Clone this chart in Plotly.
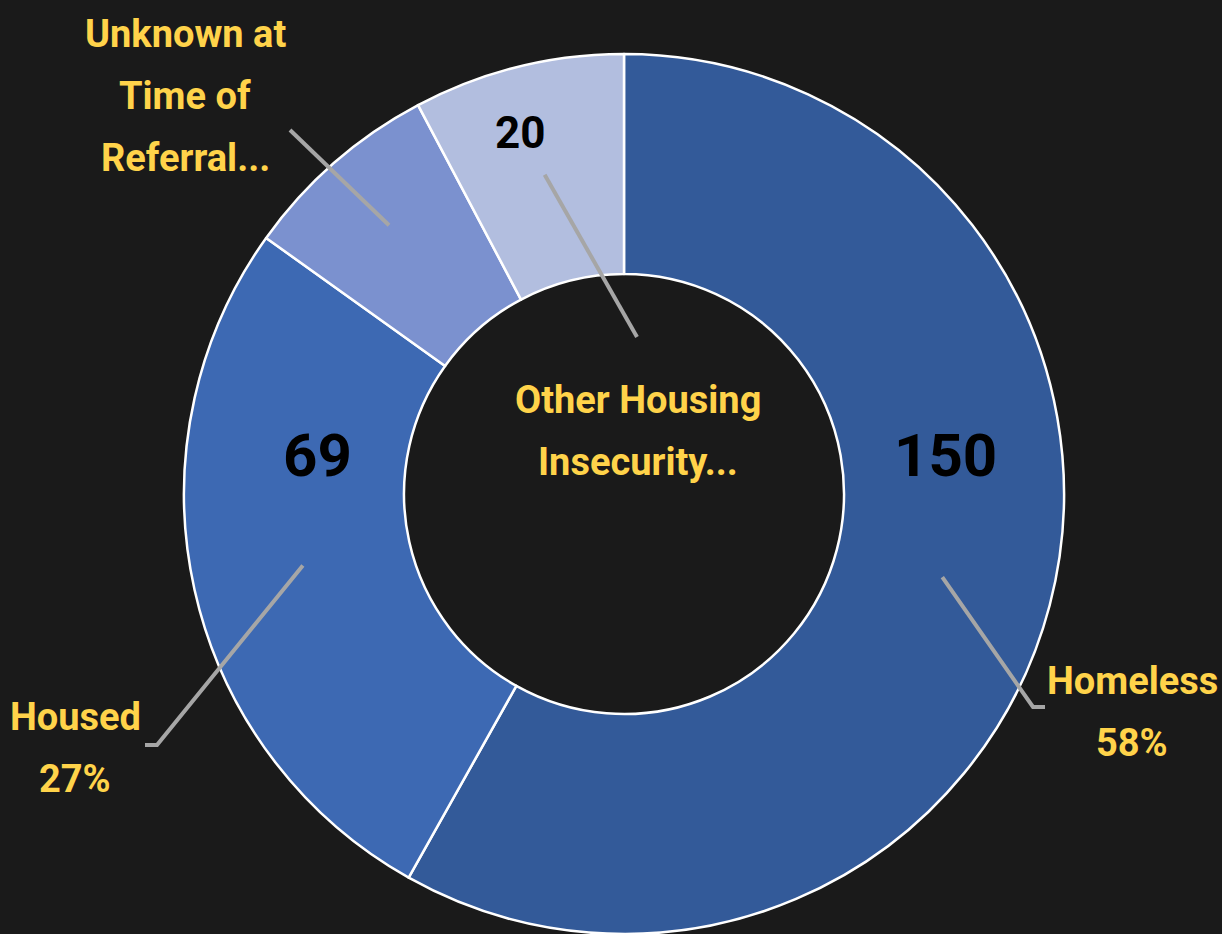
import math
import plotly.graph_objects as go

# Referral housing status
categories = ["Homeless", "Housed", "Unknown at Time of Referral...", "Other Housing Insecurity..."]
counts = [150, 69, 19, 20]
label_lines = [["Homeless", "58%"], ["Housed", "27%"], ["Unknown at", "Time of", "Referral..."],
               ["Other Housing", "Insecurity..."]]
slice_colors = ["#335A99", "#3D69B3", "#7B91CF", "#B2BEDF"]

W, H = 1222, 934
BG = "#1A1A1A"
YELLOW = "#FFD34A"
LEADER = "#A6A6A6"
FONT = "Roboto, Liberation Sans Narrow, DejaVu Sans Condensed, sans-serif"
LINE_GAP = 62  # pixel spacing between label lines

# donut geometry (pixels)
CX, CY, R = 624, 494, 440


def px(x, y):
    """pixel position -> paper coordinates"""
    return x / W, 1 - y / H


fig = go.Figure(go.Pie(
    labels=categories,
    values=counts,
    hole=0.5,
    sort=False,
    direction="clockwise",
    rotation=0,
    marker=dict(colors=slice_colors, line=dict(color="#FFFFFF", width=2.5)),
    textinfo="none",
    hoverinfo="label+value+percent",
    showlegend=False,
    domain=dict(x=[(CX - R) / W, (CX + R) / W], y=[1 - (CY + R) / H, 1 - (CY - R) / H]),
))

# mid-angle of each slice (clockwise from 12 o'clock)
total = sum(counts)
mid_angles = []
acc = 0
for v in counts:
    mid_angles.append((acc + v / 2) / total * 2 * math.pi)
    acc += v

# leader-line anchor radius inside each slice, and the outer path of each line
anchor_r = [329, 329, 357, 329]
leader_paths = [
    [(1033, 707), (1045, 707)],
    [(157, 745), (145, 745)],
    [(290, 130)],
    [(637, 337)],
]
# centre of each label block
label_pos = [(1132, 712), (75, 748), (185, 96), (638, 431)]

shapes = []
for a, r, path in zip(mid_angles, anchor_r, leader_paths):
    pts = [(CX + r * math.sin(a), CY - r * math.cos(a))] + path
    d = "M " + " L ".join(f"{px(x, y)[0]:.5f},{px(x, y)[1]:.5f}" for x, y in pts)
    shapes.append(dict(type="path", path=d, xref="paper", yref="paper",
                       line=dict(color=LEADER, width=4)))

annotations = []
for lines, (x, y) in zip(label_lines, label_pos):
    n = len(lines)
    for i, line in enumerate(lines):
        ly = y + (i - (n - 1) / 2) * LINE_GAP
        ax, ay = px(x, ly)
        annotations.append(dict(x=ax, y=ay, xref="paper", yref="paper", text=line,
                                showarrow=False, xanchor="center", yanchor="middle",
                                font=dict(family=FONT, size=38, color=YELLOW, weight="bold")))

# value labels inside the slices (the small "Unknown" slice carries none)
value_pos = [(945, 455, 60), (317, 455, 60), None, (520, 133, 44)]
for v, pos in zip(counts, value_pos):
    if pos is None:
        continue
    x, y, size = pos
    ax, ay = px(x, y)
    annotations.append(dict(x=ax, y=ay, xref="paper", yref="paper", text=str(v),
                            showarrow=False, xanchor="center", yanchor="middle",
                            font=dict(family=FONT, size=size, color="#000000", weight="bold")))

fig.update_layout(
    width=W, height=H,
    margin=dict(l=0, r=0, t=0, b=0),
    paper_bgcolor=BG, plot_bgcolor=BG,
    shapes=shapes,
    annotations=annotations,
)

fig.write_html("out.html")
